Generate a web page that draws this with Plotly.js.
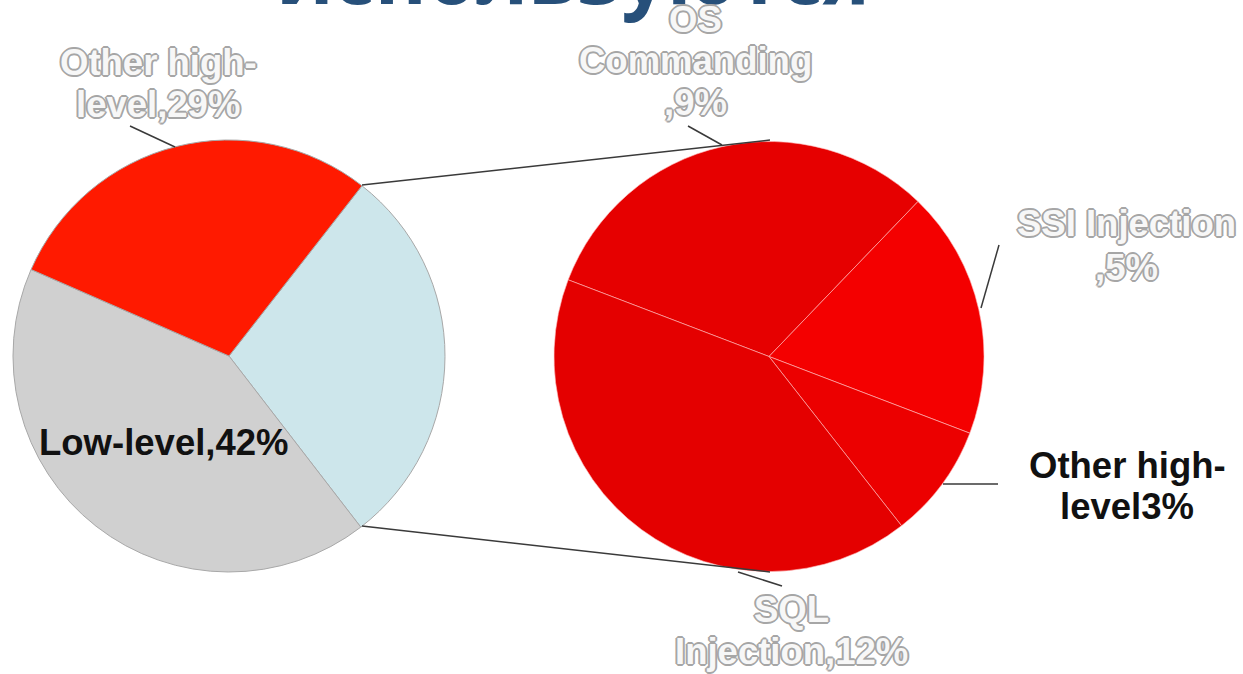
<!DOCTYPE html>
<html>
<head>
<meta charset="utf-8">
<script src="https://cdn.plot.ly/plotly-3.0.1.min.js"></script>
<style>
  html, body { margin: 0; padding: 0; background: #ffffff; }
  #chart { width: 1243px; height: 674px; }
</style>
</head>
<body>
<div id="chart"></div>
<script>
// ---------- data ----------
const titleText = "используются";

const mainLabels = ["High-level (detail)", "Low-level", "Other high-level"];
const mainValues = [29, 42, 29];
const mainColors = ["#CDE6EB", "#D0D0D0", "#FF1A00"];

const detailLabels = ["OS Commanding", "SSI Injection", "Other high-level", "SQL Injection"];
const detailValues = [9.1, 5.4, 2.5, 12.0];
const detailColors = ["#E60000", "#F40000", "#EC0000", "#E40000"];

// label texts (as shown)
const labelLines = {
  otherHigh: ["Other high-", "level,29%"],
  lowLevel: ["Low-level,42%"],
  os: ["OS", "Commanding", ",9%"],
  ssi: ["SSI Injection", ",5%"],
  otherDetail: ["Other high-", "level3%"],
  sql: ["SQL", "Injection,12%"]
};

// ---------- layout helpers (pixel -> paper) ----------
const W = 1243, H = 674;
const px = x => x / W;
const py = y => 1 - y / H;

const outline = "#A6A6A6";
const outlineShadow = [
  "-1px -1px 0 " + outline, "1px -1px 0 " + outline,
  "-1px 1px 0 " + outline, "1px 1px 0 " + outline,
  "0 -2px 0 " + outline, "0 2px 0 " + outline,
  "-2px 0 0 " + outline, "2px 0 0 " + outline
].join(", ");

const hollowFont = { family: "Liberation Sans, Arial, sans-serif", size: 36.5, color: "#F7F7F7", weight: 700, shadow: outlineShadow };
const blackFont = { family: "Liberation Sans, Arial, sans-serif", size: 36.5, color: "#111111", weight: 700 };

function lineAnns(lines, cx, yCenters, font) {
  return lines.map((t, i) => ({
    text: t, xref: "paper", yref: "paper",
    x: px(cx), y: py(yCenters[i]),
    xanchor: "center", yanchor: "middle",
    showarrow: false, font: font
  }));
}

const annotations = [
  {
    text: titleText, xref: "paper", yref: "paper",
    x: px(573), y: py(29), xanchor: "center", yanchor: "bottom",
    showarrow: false,
    font: { family: "Open Sans, sans-serif", size: 80, color: "#27507A", weight: 700 }
  },
  ...lineAnns(labelLines.otherHigh, 158, [62.5, 104.5], hollowFont),
  ...lineAnns(labelLines.lowLevel, 164, [442.5], blackFont),
  ...lineAnns(labelLines.os, 695, [19.5, 60.5, 102.5], hollowFont),
  ...lineAnns(labelLines.ssi, 1126, [224, 267.5], hollowFont),
  ...lineAnns(labelLines.otherDetail, 1127, [465.5, 506.5], blackFont),
  ...lineAnns(labelLines.sql, 791, [609, 651], hollowFont)
];

function seg(x0, y0, x1, y1, color, width) {
  return { type: "line", xref: "paper", yref: "paper",
    x0: px(x0), y0: py(y0), x1: px(x1), y1: py(y1),
    line: { color: color || "#3A3A3A", width: width || 1.5 } };
}

const shapes = [
  // pie-of-pie connectors
  seg(362, 185, 770, 140),
  seg(362, 526, 770, 572),
  // leader lines
  seg(130, 126, 175, 147),
  seg(688, 126, 722, 145),
  seg(999, 245, 981, 308),
  seg(943, 484, 998, 484),
  seg(738, 572, 782, 586)
];

const traces = [
  {
    type: "pie",
    labels: mainLabels, values: mainValues,
    marker: { colors: mainColors, line: { color: "#A8A8A8", width: 1 } },
    sort: false, direction: "clockwise", rotation: 38,
    textinfo: "none", hoverinfo: "none",
    domain: { x: [px(13), px(445)], y: [py(573), py(139)] }
  },
  {
    type: "pie",
    labels: detailLabels, values: detailValues,
    marker: { colors: detailColors, line: { color: "rgba(255,190,190,0.75)", width: 0.8 } },
    sort: false, direction: "clockwise", rotation: -69.1,
    textinfo: "none", hoverinfo: "none",
    domain: { x: [px(554), px(984)], y: [py(573), py(140)] }
  }
];

const layout = {
  width: W, height: H,
  margin: { l: 0, r: 0, t: 0, b: 0 },
  paper_bgcolor: "#ffffff",
  showlegend: false,
  annotations: annotations,
  shapes: shapes
};

Plotly.newPlot("chart", traces, layout, { displayModeBar: false, staticPlot: true });
</script>
</body>
</html>
